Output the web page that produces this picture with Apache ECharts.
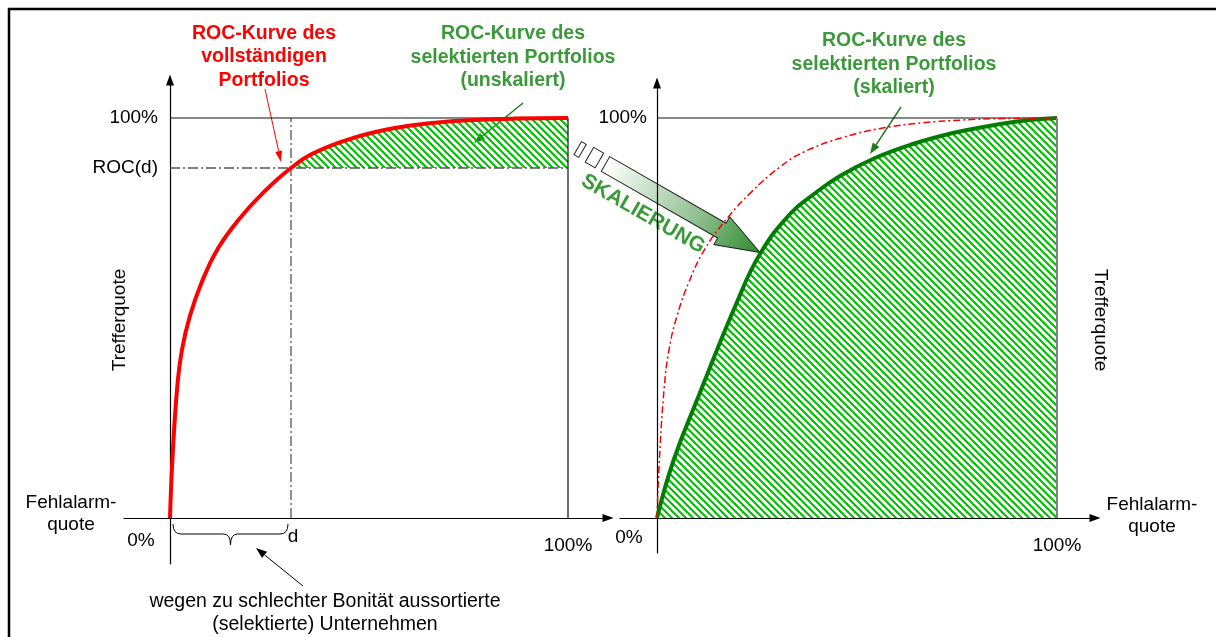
<!DOCTYPE html>
<html><head><meta charset="utf-8">
<script src="https://cdn.jsdelivr.net/npm/echarts@6/dist/echarts.min.js"></script>
<style>html,body{margin:0;padding:0;background:#fff}#c{width:1216px;height:637px}</style>
</head><body><div id="c"></div>
<script>
// ---------- data (percent values) ----------
const rocFull = [[0,0],[0.6,14.5],[1.8,32.5],[3,42],[5,50.5],[8,59],[12,67.3],[17.6,75],[23.5,81.4],[30.4,87.5],[36.7,91.5],[46.7,95.2],[56.5,97.5],[66.6,98.8],[76.4,99.5],[86.4,99.85],[100,100]];
const rocScaled = [[0,0],[4,14],[10,29.5],[20,54],[25.75,66],[33.25,76],[39.25,81],[45.75,85.5],[54.5,90],[64,93.5],[74.25,96.3],[84,98.2],[92,99.4],[100,100]];
const cutoffD = 30.4;      // d
const rocAtD = 87.5;       // ROC(d)
const boxTop = [[0,100],[100,100]];
const boxRight = [[100,100],[100,0]];
const tickLabels = {zero:'0%', full:'100%', d:'d', rocd:'ROC(d)'};
const axisNames = {y:'Trefferquote', x:'Fehlalarm-\nquote'};
const titles = {
  full:'ROC-Kurve des\nvollständigen\nPortfolios',
  unscaled:'ROC-Kurve des\nselektierten Portfolios\n(unskaliert)',
  scaled:'ROC-Kurve des\nselektierten Portfolios\n(skaliert)'
};
const noteText = 'wegen zu schlechter Bonität aussortierte\n(selektierte) Unternehmen';
const arrowText = 'SKALIERUNG';

// ---------- styles ----------
const RED = '#ff0000', GREEN_T = '#3a9a3a', GREEN_L = '#007d00', HATCH = '#00c000', GREY = '#555555';
const FONT = '"Liberation Sans", Arial, sans-serif';

function hatch(){
  const s = 7, c = document.createElement('canvas'); c.width = s; c.height = s;
  const g = c.getContext('2d'); g.strokeStyle = HATCH; g.lineWidth = 2.1;
  for (const o of [-s,0,s]) { g.beginPath(); g.moveTo(o-1,-1); g.lineTo(o+s+1,s+1); g.stroke(); }
  return {image:c, repeat:'repeat'};
}
const pat = hatch();

const chart = echarts.init(document.getElementById('c'), null, {renderer:'canvas'});

function ax(gi, min, max){
  return {type:'value', gridIndex:gi, min, max,
    axisLine:{show:true, onZero:true, symbol:['none','triangle'], symbolSize:[8,11], lineStyle:{color:'#000', width:1.2}},
    axisTick:{show:false}, axisLabel:{show:false}, splitLine:{show:false}};
}
function line(gi, data, ls, extra){
  return Object.assign({type:'line', xAxisIndex:gi, yAxisIndex:gi, data, symbol:'none', silent:true,
    lineStyle:ls, itemStyle:{color:ls.color}}, extra||{});
}
const dashDot = [10,3,2,3];
const SM = 0.45;

chart.setOption({
  animation:false,
  grid:[{left:124, top:80, width:484, height:484},{left:620, top:83, width:475, height:470}],
  xAxis:[ax(0,-11.56,110.05), ax(1,-9.25,109.5)],
  yAxis:[ax(0,-11.5,109.5), ax(1,-8.75,108.75)],
  series:[
    // left panel
    line(0, [[cutoffD,0],[cutoffD,100]], {color:GREY, width:1.3, type:dashDot}),
    line(0, [[0,rocAtD],[100,rocAtD]], {color:GREY, width:1.3, type:dashDot}),
    line(0, boxTop.concat([boxRight[1]]), {color:'#111', width:1.2}),
    line(0, rocFull.filter(p=>p[0]>=cutoffD), {width:0, color:HATCH}, {smooth:SM, areaStyle:{color:pat, opacity:1, origin:rocAtD}}),
    line(0, rocFull, {color:RED, width:4}, {smooth:SM}),
    // right panel
    line(1, boxTop, {color:'#111', width:1.2}),
    line(1, rocScaled, {color:GREEN_L, width:4}, {smooth:SM, areaStyle:{color:pat, opacity:1, origin:0}, z:3}),
    line(1, boxRight, {color:'#808080', width:2}, {z:4}),
    line(1, rocFull, {color:RED, width:1.5, type:[7,3,2,3]}, {smooth:SM, z:5})
  ]
});

// ---------- annotations positioned through the axes ----------
const P = (g, p) => chart.convertToPixel({gridIndex:g}, p);
const txt = (x, y, text, o) => ({type:'text', x, y, silent:true, style:Object.assign({text, font:'19px '+FONT, fill:'#000', textAlign:'center', textVerticalAlign:'middle', lineHeight:22}, o||{})});
function arrow(x1,y1,x2,y2,color,w,hl,hw){
  const a = Math.atan2(y2-y1,x2-x1), bx = x2-hl*Math.cos(a), by = y2-hl*Math.sin(a), nx = -Math.sin(a), ny = Math.cos(a);
  return [{type:'line', silent:true, shape:{x1,y1,x2:bx,y2:by}, style:{stroke:color, lineWidth:w}},
          {type:'polygon', silent:true, shape:{points:[[x2,y2],[bx+nx*hw,by+ny*hw],[bx-nx*hw,by-ny*hw]]}, style:{fill:color}}];
}
const qb = (x1,y1,cx,cy,x2,y2) => ({type:'bezierCurve', silent:true, shape:{x1,y1,x2,y2,cpx1:cx,cpy1:cy}, style:{stroke:'#000', fill:null, lineWidth:1}});
const seg = (x1,y1,x2,y2) => ({type:'line', silent:true, shape:{x1,y1,x2,y2}, style:{stroke:'#000', lineWidth:1}});

const L0 = P(0,[0,0]), L100 = P(0,[0,100]), Lrd = P(0,[0,rocAtD]), Ld = P(0,[cutoffD,0]), LX = P(0,[100,0]);
const R0 = P(1,[0,0]), R100 = P(1,[0,100]), RX = P(1,[100,0]);

const els = [];
// frame
els.push({type:'line', silent:true, shape:{x1:8, y1:9, x2:1216, y2:9}, style:{stroke:'#000', lineWidth:2.5}});
els.push({type:'line', silent:true, shape:{x1:9, y1:8, x2:9, y2:637}, style:{stroke:'#000', lineWidth:2.5}});
// tick labels
els.push(txt(L100[0]-12, L100[1], tickLabels.full, {textAlign:'right'}));
els.push(txt(Lrd[0]-12, Lrd[1], tickLabels.rocd, {textAlign:'right'}));
els.push(txt(L0[0]-29, L0[1]+23, tickLabels.zero));
els.push(txt(Ld[0]+2, Ld[1]+19, tickLabels.d));
els.push(txt(LX[0], LX[1]+28, tickLabels.full));
els.push(txt(R100[0]-10, R100[1], tickLabels.full, {textAlign:'right'}));
els.push(txt(R0[0]-28, R0[1]+20, tickLabels.zero));
els.push(txt(RX[0], RX[1]+28, tickLabels.full));
// axis names
els.push(Object.assign(txt(120, 320, axisNames.y), {rotation:Math.PI/2}));
els.push(Object.assign(txt(1100, 320, axisNames.y), {rotation:-Math.PI/2}));
els.push(txt(71, 514, axisNames.x));
els.push(txt(1152, 516, axisNames.x));
// titles
const TF = 'bold 19.5px '+FONT;
els.push(txt(264, 57, titles.full, {font:TF, fill:RED, lineHeight:23.5}));
els.push(txt(513, 57.5, titles.unscaled, {font:TF, fill:GREEN_T, lineHeight:23.5}));
els.push(txt(894, 64.5, titles.scaled, {font:TF, fill:GREEN_T, lineHeight:23.5}));
// pointer arrows
els.push(...arrow(265, 89, 281, 162, RED, 1, 11, 3.5));
els.push(...arrow(523, 103, 474, 143, '#1f7a1f', 1.5, 11, 4));
els.push(...arrow(901, 107, 870, 154, '#1f7a1f', 1.5, 11, 4));
// brace under 0..d
const xl = L0[0]+3, xr = Ld[0]-3, xm = (xl+xr)/2, yt = L0[1]+6, ym = L0[1]+16, yb = L0[1]+27;
els.push(qb(xl,yt, xl,ym, xl+8,ym));
els.push(seg(xl+8,ym, xm-7,ym));
els.push(qb(xm-7,ym, xm,ym, xm,yb));
els.push(qb(xm,yb, xm,ym, xm+7,ym));
els.push(seg(xm+7,ym, xr-8,ym));
els.push(qb(xr-8,ym, xr,ym, xr,yt));
els.push(...arrow(303, 586, 256, 548, '#000', 1, 11, 4));
els.push(txt(325, 613, noteText, {font:'19.5px '+FONT, lineHeight:23}));
// big scaling arrow
const sx = 605.5, sy = 164, tx = 760, ty = 252.5;
const ang = Math.atan2(ty-sy, tx-sx), Lg = Math.hypot(tx-sx, ty-sy);
const hw = 8.5, hh = 16, hl = 44;
els.push({type:'group', x:sx, y:sy, rotation:-ang, silent:true, children:[
  {type:'polygon', shape:{points:[[0,-hw],[Lg-hl,-hw],[Lg-hl,-hh],[Lg,0],[Lg-hl,hh],[Lg-hl,hw],[0,hw]]},
   style:{fill:{type:'linear', x:0, y:0, x2:1, y2:0, colorStops:[{offset:0,color:'#ffffff'},{offset:0.6,color:'#8fbf8f'},{offset:1,color:'#2e8b2e'}]}, stroke:'#222', lineWidth:1}},
  {type:'rect', shape:{x:-18.5, y:-hw, width:11.5, height:2*hw}, style:{fill:'#fff', stroke:'#222', lineWidth:1}},
  {type:'rect', shape:{x:-32, y:-hw+1, width:5.5, height:2*hw-2}, style:{fill:'#fff', stroke:'#222', lineWidth:1}}
]});
els.push(Object.assign(txt(643, 214, arrowText, {font:'bold 21px '+FONT, fill:GREEN_T}), {rotation:-ang}));

chart.setOption({graphic:{elements:els}});
</script>
</body></html>
